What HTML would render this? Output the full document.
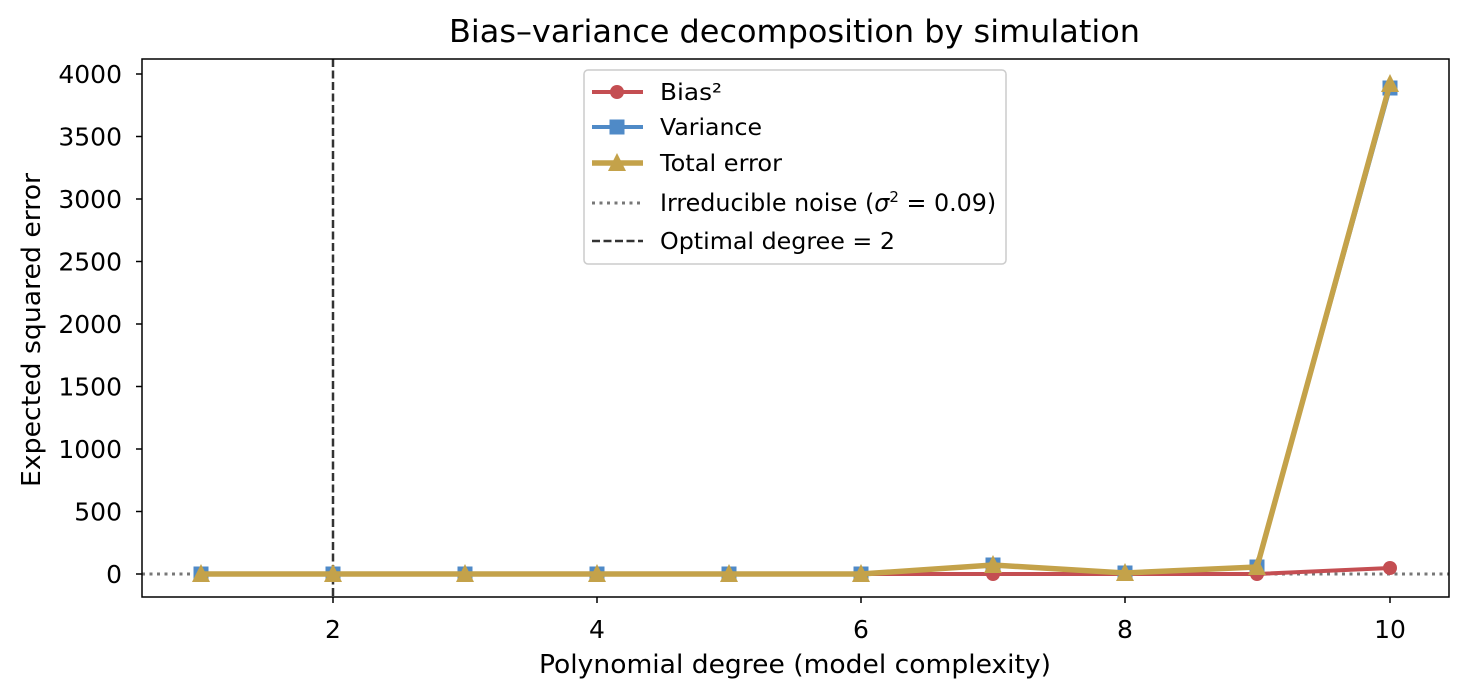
<!DOCTYPE html>
<html><head><meta charset="utf-8"><style>body{margin:0;background:#fff}svg{display:block}text{font-family:"DejaVu Sans","Liberation Sans",sans-serif;fill:#000}</style></head><body>
<svg width="1467" height="699" viewBox="0 0 1467 699">
<defs><clipPath id="c"><rect x="142" y="59" width="1307" height="538"/></clipPath></defs>
<g clip-path="url(#c)">
<line x1="142" y1="574" x2="1449" y2="574" stroke="#777" stroke-width="3" stroke-dasharray="3,4.5"/>
<line x1="333" y1="59" x2="333" y2="597" stroke="#333" stroke-width="2.5" stroke-dasharray="8,3.5"/>
<polyline fill="none" stroke="#c44e52" stroke-width="4" points="201,574 333,574 465,574 597,574 729,574 861,574 993,574 1125,574 1257,574 1390,568"/>
<g fill="#c44e52"><circle cx="201" cy="574" r="7"/><circle cx="333" cy="574" r="7"/><circle cx="465" cy="574" r="7"/><circle cx="597" cy="574" r="7"/><circle cx="729" cy="574" r="7"/><circle cx="861" cy="574" r="7"/><circle cx="993" cy="574" r="7"/><circle cx="1125" cy="574" r="7"/><circle cx="1257" cy="574" r="7"/><circle cx="1390" cy="568" r="7"/></g>
<polyline fill="none" stroke="#4f8ac7" stroke-width="4" points="201,574 333,574 465,574 597,574 729,574 861,574 993,565 1125,573 1257,567 1390,88"/>
<g fill="#4f8ac7"><rect x="193.5" y="566.5" width="15" height="15"/><rect x="325.5" y="566.5" width="15" height="15"/><rect x="457.5" y="566.5" width="15" height="15"/><rect x="589.5" y="566.5" width="15" height="15"/><rect x="721.5" y="566.5" width="15" height="15"/><rect x="853.5" y="566.5" width="15" height="15"/><rect x="985.5" y="557.5" width="15" height="15"/><rect x="1117.5" y="565.5" width="15" height="15"/><rect x="1249.5" y="559.5" width="15" height="15"/><rect x="1382.5" y="80.5" width="15" height="15"/></g>
<polyline fill="none" stroke="#c4a24a" stroke-width="5.5" points="201,574 333,574 465,574 597,574 729,574 861,574 993,565 1125,573 1257,567 1390,84"/>
<g fill="#c4a24a">
<polygon points="201,564 210,582 192,582"/><polygon points="333,564 342,582 324,582"/><polygon points="465,564 474,582 456,582"/><polygon points="597,564 606,582 588,582"/><polygon points="729,564 738,582 720,582"/><polygon points="861,564 870,582 852,582"/><polygon points="993,555 1002,573 984,573"/><polygon points="1125,563 1134,581 1116,581"/><polygon points="1257,557 1266,575 1248,575"/><polygon points="1390,74 1399,92 1381,92"/></g>
</g>
<rect x="142" y="59" width="1307" height="538" fill="none" stroke="#000" stroke-width="1.5"/>
<g stroke="#000" stroke-width="1.5">
<line x1="333" y1="597" x2="333" y2="603"/><line x1="597" y1="597" x2="597" y2="603"/><line x1="861" y1="597" x2="861" y2="603"/><line x1="1125" y1="597" x2="1125" y2="603"/><line x1="1390" y1="597" x2="1390" y2="603"/>
<line x1="136" y1="574" x2="142" y2="574"/><line x1="136" y1="511.5" x2="142" y2="511.5"/><line x1="136" y1="449" x2="142" y2="449"/><line x1="136" y1="386.5" x2="142" y2="386.5"/><line x1="136" y1="324" x2="142" y2="324"/><line x1="136" y1="261.5" x2="142" y2="261.5"/><line x1="136" y1="199" x2="142" y2="199"/><line x1="136" y1="136.5" x2="142" y2="136.5"/><line x1="136" y1="74" x2="142" y2="74"/>
</g>
<g font-size="25" text-anchor="middle">
<text x="333" y="638">2</text><text x="597" y="638">4</text><text x="861" y="638">6</text><text x="1125" y="638">8</text><text x="1390" y="638">10</text>
</g>
<g font-size="25" text-anchor="end">
<text x="122" y="583">0</text><text x="122" y="520.5">500</text><text x="122" y="458">1000</text><text x="122" y="395.5">1500</text><text x="122" y="333">2000</text><text x="122" y="270.5">2500</text><text x="122" y="208">3000</text><text x="122" y="145.5">3500</text><text x="122" y="83">4000</text>
</g>
<text x="539" y="673" font-size="26" textLength="512" lengthAdjust="spacingAndGlyphs">Polynomial degree (model complexity)</text>
<text transform="translate(40,330) rotate(-90)" font-size="26" text-anchor="middle" textLength="314" lengthAdjust="spacingAndGlyphs">Expected squared error</text>
<text x="449" y="42" font-size="31" textLength="691" lengthAdjust="spacingAndGlyphs">Bias–variance decomposition by simulation</text>
<rect x="584" y="70" width="422" height="194" rx="4" fill="#fff" stroke="#ccc" stroke-width="1.5"/>
<line x1="592" y1="92" x2="643" y2="92" stroke="#c44e52" stroke-width="4"/><circle cx="617" cy="92" r="7" fill="#c44e52"/>
<line x1="592" y1="127" x2="643" y2="127" stroke="#4f8ac7" stroke-width="4"/><rect x="609.5" y="119.5" width="15" height="15" fill="#4f8ac7"/>
<line x1="592" y1="163" x2="643" y2="163" stroke="#c4a24a" stroke-width="5.5"/><polygon points="617,153 626,171 608,171" fill="#c4a24a"/>
<line x1="592" y1="203" x2="643" y2="203" stroke="#777" stroke-width="3" stroke-dasharray="3,4.5"/>
<line x1="592" y1="241" x2="643" y2="241" stroke="#333" stroke-width="2.5" stroke-dasharray="8,3.5"/>
<g font-size="23">
<text x="660" y="100" textLength="62" lengthAdjust="spacingAndGlyphs">Bias²</text>
<text x="660" y="135" textLength="102" lengthAdjust="spacingAndGlyphs">Variance</text>
<text x="660" y="171" textLength="122" lengthAdjust="spacingAndGlyphs">Total error</text>
<text x="660" y="211" font-size="23.8">Irreducible noise (<tspan font-style="italic">σ</tspan><tspan font-size="15" dy="-9">2</tspan><tspan dy="9"> = 0.09)</tspan></text>
<text x="660" y="249" textLength="235" lengthAdjust="spacingAndGlyphs">Optimal degree = 2</text>
</g>
</svg>
</body></html>
